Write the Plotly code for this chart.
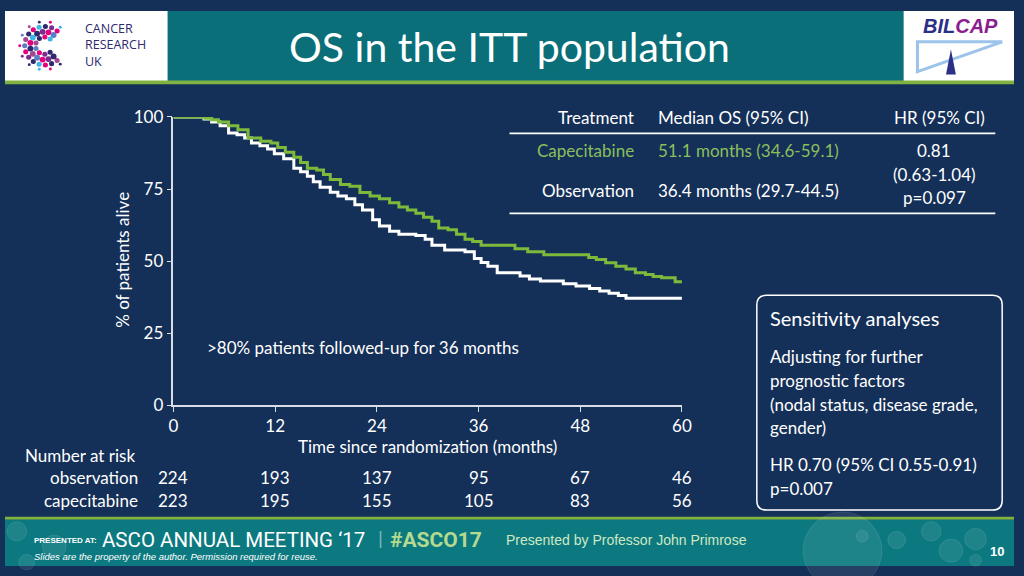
import plotly.graph_objects as go
import math

# ---------------- data ----------------
obs_t = [0, 3.6, 4.5, 5.5, 6.5, 7.5, 8.4, 9.2, 10.2, 11.1, 11.9, 13.0, 14.2, 15.0, 15.8, 16.5, 17.3, 18.5, 19.4, 20.4,
         21.4, 22.3, 23.5, 24.3, 25.5, 26.6, 28.6, 29.7, 30.5, 32.0, 34.4, 35.5, 36.3, 37.1, 38.2, 40.9, 42.0, 43.3, 46.0, 47.5,
         49.1, 50.3, 51.4, 52.5, 53.4, 60]
obs_s = [100, 99.3, 98.3, 97, 94.4, 93.8, 92.7, 91, 90, 88.9, 87.2, 85.5, 82.2, 81, 79.4, 77.5, 75.6, 73.9, 72.6, 71.6,
         69.5, 67.7, 64.3, 62.2, 60.3, 59.3, 58.9, 57.6, 55.5, 53.8, 53.2, 50.9, 49.5, 48.2, 45.9, 44.8, 43.8, 43.1, 42.1, 41.3,
         40.5, 39.6, 38.8, 38.0, 37.1, 37.1]
cap_t = [0, 3.7, 4.5, 5.3, 6.5, 7.6, 8.8, 10.3, 11.5, 12.3, 13.2, 14.2, 15.0, 15.8, 16.9, 17.7, 18.5, 19.7, 20.8, 22.0,
         23.2, 24.3, 25.5, 26.6, 27.6, 28.6, 29.5, 30.5, 31.3, 32.4, 33.4, 34.4, 35.3, 36.3, 40.3, 41.8, 43.7, 49.0, 49.9, 51.0,
         52.2, 53.4, 54.5, 55.7, 56.6, 57.6, 59.2, 60]
cap_s = [100, 99.6, 99.0, 98.3, 97.0, 95.6, 92.7, 91.6, 91.0, 89.4, 87.8, 86.0, 84.2, 82.2, 81.6, 80.0, 78.3, 76.6, 76.0, 73.8,
         72.6, 71.6, 70.2, 68.8, 67.7, 66.6, 65.2, 63.8, 61.5, 60.9, 59.3, 57.6, 56.8, 55.5, 54.3, 53.2, 52.2, 51.2, 50.5, 49.4,
         48.2, 47.2, 45.9, 45.3, 44.6, 44.2, 42.8, 42.8]

x_ticks = [0, 12, 24, 36, 48, 60]
y_ticks = [0, 25, 50, 75, 100]
risk_obs = [224, 193, 137, 95, 67, 46]
risk_cap = [223, 195, 155, 105, 83, 56]

table_header = ["Treatment", "Median OS (95% CI)", "HR (95% CI)"]
table_groups = ["Capecitabine", "Observation"]
table_median = ["51.1 months (34.6-59.1)", "36.4 months (29.7-44.5)"]
table_hr = ["0.81", "(0.63-1.04)", "p=0.097"]

sens_lines = ["Adjusting for further", "prognostic factors", "(nodal status, disease grade,", "gender)"]
sens_hr = ["HR 0.70 (95% CI 0.55-0.91)", "p=0.007"]

# ---------------- styling ----------------
W, H = 1024, 576
NAVY = "#143058"
TEAL = "#0a6f78"
TEAL2 = "#0c7980"
GREEN_LINE = "#7fb241"
CAP_GREEN = "#7dba3c"
TXT_GREEN = "#8bbf5c"
AXIS = "#d8dde6"
FONT = "Lato"


def X(px):
    return px / W


def Y(py):
    return 1 - py / H


fig = go.Figure()

fig.add_trace(go.Scatter(x=obs_t, y=obs_s, mode="lines", line=dict(color="white", width=3, shape="hv"),
                         name="observation", hoverinfo="skip"))
fig.add_trace(go.Scatter(x=cap_t, y=cap_s, mode="lines", line=dict(color=CAP_GREEN, width=3, shape="hv"),
                         name="capecitabine", hoverinfo="skip"))

shapes = []
ann = []


def rect(x0, y0, x1, y1, color, layer="below"):
    shapes.append(dict(type="rect", xref="paper", yref="paper", x0=X(x0), x1=X(x1), y0=Y(y1), y1=Y(y0),
                       fillcolor=color, line=dict(width=0), layer=layer))


def text(s, x, y, size=17, color="white", xa="left", ya="middle", family=FONT, angle=0, xref="paper", align="left"):
    ann.append(dict(text=s, x=(X(x) if xref == "paper" else x), y=Y(y), xref=xref, yref="paper",
                    xanchor=xa, yanchor=ya, showarrow=False, textangle=angle, align=align,
                    font=dict(size=size, color=color, family=family)))


# header
rect(0, 0, 1024, 74, "white")
rect(165, 0, 912, 73, TEAL)
rect(0, 72, 1024, 76, GREEN_LINE)
# footer
rect(0, 525, 1024, 528, GREEN_LINE)
rect(0, 528, 1024, 576, TEAL2)

# faint decorative circles in footer
for (cx, cy, r) in [(12, 540, 10), (50, 556, 12), (22, 572, 8), (850, 560, 40), (905, 549, 9), (940, 540, 10),
                    (960, 560, 12), (985, 548, 11), (985, 570, 6), (870, 545, 6)]:
    shapes.append(dict(type="circle", xref="paper", yref="paper", x0=X(cx - r), x1=X(cx + r), y0=Y(cy + r),
                       y1=Y(cy - r), fillcolor="rgba(255,255,255,0.08)",
                       line=dict(color="rgba(255,255,255,0.10)", width=1), layer="below"))

# CRUK logo dots (decoration)
cols = ["#e5007d", "#7b2c8f", "#2d2a6e", "#3fb4e5", "#e5007d", "#2d2a6e", "#a4478f", "#5a7fc4"]
k = 0
for ring, (rad, n, sz) in enumerate([(20, 15, 2.6), (14.5, 12, 3.0), (9, 8, 2.6), (25, 11, 1.5)]):
    for i in range(n):
        a = math.radians(50 + i * (260 / (n - 1)))
        cx = 40 + rad * math.cos(a)
        cy = 36 - rad * math.sin(a)
        c = cols[k % len(cols)]
        k += 1
        shapes.append(dict(type="circle", xref="paper", yref="paper", x0=X(cx - sz), x1=X(cx + sz),
                           y0=Y(cy + sz), y1=Y(cy - sz), fillcolor=c, line=dict(width=0), layer="above"))
text("CANCER<br>RESEARCH<br>UK", 79, 35, size=12.5, color="#2d2a6e", family="Open Sans")

# BILCAP logo
text("<b><i><span style='color:#2b2f86'>BIL</span><span style='color:#8b1d8f'>CAP</span></i></b>", 970, 16,
     size=20, xa="center", family="Arial")
shapes.append(dict(type="path", xref="paper", yref="paper",
                   path=f"M {X(926)} {Y(32)} L {X(1012)} {Y(32)} L {X(926)} {Y(63)} Z",
                   line=dict(color="#9cc3ea", width=3), fillcolor="rgba(0,0,0,0)", layer="above"))
shapes.append(dict(type="path", xref="paper", yref="paper",
                   path=f"M {X(960)} {Y(40)} L {X(965)} {Y(66)} L {X(955)} {Y(66)} Z",
                   line=dict(width=0), fillcolor="#2b2f86", layer="above"))

# title
text("OS in the ITT population", 512, 37, size=41, xa="center")

# axis titles / notes
text("% of patients alive", 119, 258, size=17, xa="center", angle=-90)
text("Time since randomization (months)", 429, 452, size=17, xa="center")
text(">80% patients followed-up for 36 months", 203, 349, size=17)

# number at risk
text("Number at risk", 18, 461, size=17)
text("observation", 137, 484, size=17, xa="right")
text("capecitabine", 137, 508, size=17, xa="right")
for t, a, b in zip(x_ticks, risk_obs, risk_cap):
    text(str(a), t, 484, size=17, xa="center", xref="x")
    text(str(b), t, 508, size=17, xa="center", xref="x")

# results table
text(table_header[0], 640, 111, size=17, xa="right")
text(table_header[1], 661, 111, size=17)
text(table_header[2], 997, 111, size=17, xa="right")
rect(512, 126, 1005, 128, "white", layer="above")
text(table_groups[0], 640, 145, size=17, xa="right", color=TXT_GREEN)
text(table_median[0], 661, 145, size=17, color=TXT_GREEN)
text(table_groups[1], 640, 186, size=17, xa="right")
text(table_median[1], 661, 186, size=17)
for i, s in enumerate(table_hr):
    text(s, 943, 145 + i * 24.5, size=17, xa="center")
rect(512, 209, 1005, 211, "white", layer="above")

# sensitivity box
x0, y0, x1, y1, r = 763, 295, 1012, 518, 10
p = (f"M {X(x0 + r)} {Y(y0)} L {X(x1 - r)} {Y(y0)} Q {X(x1)} {Y(y0)} {X(x1)} {Y(y0 + r)} "
     f"L {X(x1)} {Y(y1 - r)} Q {X(x1)} {Y(y1)} {X(x1 - r)} {Y(y1)} L {X(x0 + r)} {Y(y1)} "
     f"Q {X(x0)} {Y(y1)} {X(x0)} {Y(y1 - r)} L {X(x0)} {Y(y0 + r)} Q {X(x0)} {Y(y0)} {X(x0 + r)} {Y(y0)} Z")
shapes.append(dict(type="path", xref="paper", yref="paper", path=p, line=dict(color="white", width=1.5),
                   fillcolor="rgba(0,0,0,0)", layer="above"))
text("Sensitivity analyses", 774, 319, size=20)
for i, s in enumerate(sens_lines):
    text(s, 774, 359 + i * 24.5, size=17)
for i, s in enumerate(sens_hr):
    text(s, 774, 471 + i * 24.5, size=17)

# footer texts
text("<b>PRESENTED AT:</b>", 27, 550, size=8, family="Arial")
text("ASCO ANNUAL MEETING ‘17", 96, 549, size=20.5, family="Roboto")
text("|", 377, 548, size=20, color="rgba(255,255,255,0.45)", family="Roboto")
text("<b>#ASCO17</b>", 389, 549, size=21, color="#b4d98f", family="Roboto")
text("Presented by Professor John Primrose", 506, 549, size=14, color="#cfe8c0", family="Arial")
text("<i>Slides are the property of the author. Permission required for reuse.</i>", 27, 566, size=9.5,
     family="Arial")
text("<b>10</b>", 1016, 561, size=13, xa="right", family="Arial")

fig.update_layout(
    width=W, height=H, margin=dict(l=0, r=0, t=0, b=0),
    paper_bgcolor=NAVY, plot_bgcolor=NAVY, showlegend=False,
    shapes=shapes, annotations=ann,
    font=dict(family=FONT, color="white", size=17),
    xaxis=dict(domain=[X(171), X(687)], range=[0, 60], tickvals=x_ticks, showgrid=False, zeroline=False,
               showline=True, linecolor=AXIS, linewidth=1.5, ticks="outside", ticklen=5, tickcolor=AXIS,
               tickfont=dict(size=17, color="white", family=FONT), fixedrange=True),
    yaxis=dict(domain=[Y(409), Y(110)], range=[0, 100], tickvals=y_ticks, showgrid=False, zeroline=False,
               showline=True, linecolor=AXIS, linewidth=1.5, ticks="outside", ticklen=5, tickcolor=AXIS,
               tickfont=dict(size=17, color="white", family=FONT), fixedrange=True),
)

fig.write_html("out.html", config={"displayModeBar": False})

# remove the default page margin so the 1024x576 figure fills the window exactly
with open("out.html", "r", encoding="utf-8") as f:
    html = f.read()
html = html.replace("<head>", "<head><style>html,body{margin:0;padding:0;overflow:hidden;}</style>", 1)
with open("out.html", "w", encoding="utf-8") as f:
    f.write(html)
